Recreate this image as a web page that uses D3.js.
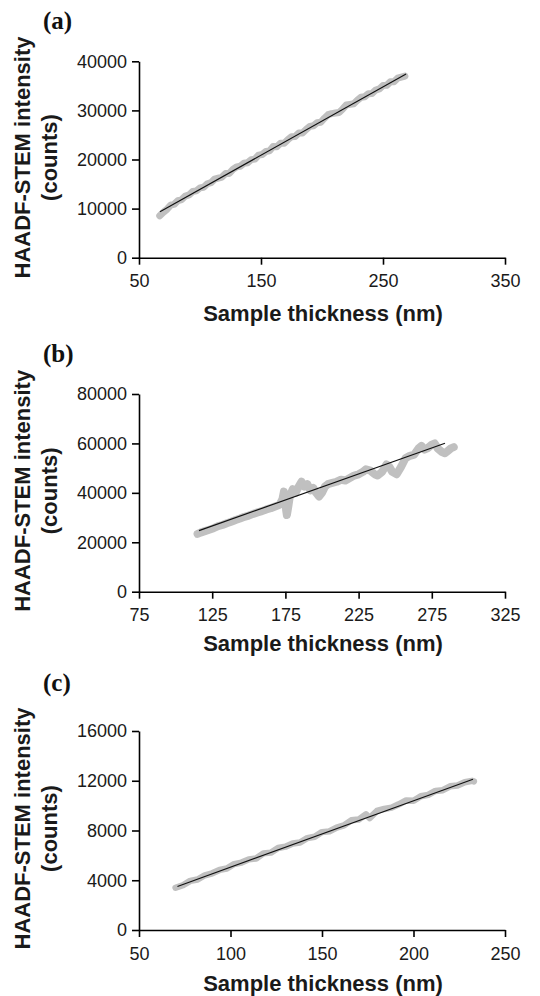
<!DOCTYPE html>
<html>
<head>
<meta charset="utf-8">
<script src="https://cdn.jsdelivr.net/npm/d3@7"></script>
<style>
  body { margin: 0; background: #fff; }
  svg { display: block; }
</style>
</head>
<body>
<div class="canvas"></div>
<script>
// panel (a) - thickness (nm), intensity (counts)
const thickA = [67, 70, 73, 76, 79, 82, 85, 88, 91, 94, 97, 100, 103, 106, 109, 112, 115, 118, 121, 124,
    127, 130, 133, 136, 139, 142, 145, 148, 151, 154, 157, 160, 163, 166, 169, 172, 175, 178, 181, 184,
    187, 190, 193, 196, 199, 202, 205, 208, 211, 214, 217, 220, 223, 226, 229, 232, 235, 238, 241, 244,
    247, 250, 253, 256, 259, 262, 265, 268];
const countsA = [8540, 9260, 9880, 10690, 10910, 11630, 11840, 12560, 12780, 13500, 13610, 14230, 14350, 15060, 15280, 16000, 16210, 16430, 17150, 17170,
    17980, 18500, 18620, 19230, 19350, 19970, 20080, 20900, 21020, 21640, 21750, 22670, 22590, 23300, 23320, 24040, 24650, 24670, 25390, 25400,
    26120, 26740, 26860, 27470, 27590, 28410, 29120, 29340, 29460, 29580, 30290, 31110, 31230, 31340, 32060, 32680, 32790, 33410, 33430, 34150,
    34360, 35080, 35100, 35810, 35830, 36550, 36760, 36980];
const fitA = [[67.2, 9370], [268.9, 37410]];

// panel (b)
const thickB = [115, 117, 120, 123, 126, 129, 132, 135, 138, 141, 144, 147, 150, 153, 156, 159, 162, 165, 168, 171,
    173, 174, 175, 175.5, 176, 177, 178, 180, 182, 184, 186, 188, 190, 192, 194, 196, 198, 200, 202, 204,
    207, 210, 213, 216, 219, 222, 225, 228, 230, 233, 236, 238, 241, 244, 246, 248, 251, 254, 257, 260,
    263, 266, 268, 270, 272, 275, 277, 279, 282, 284, 286, 288, 290];
const countsB = [23400, 23900, 24500, 25100, 25700, 26500, 27000, 27700, 28300, 29000, 29600, 30300, 30800, 31500, 32100, 32600, 33300, 33800, 34500, 35200,
    37500, 40500, 38000, 33000, 31000, 34500, 38500, 41500, 40000, 42500, 44500, 42500, 43500, 41000, 42000, 40000, 38500, 40000, 42500, 43500,
    44000, 44500, 45300, 45000, 46000, 47000, 47500, 48500, 49500, 49000, 47500, 47000, 48500, 51500, 50500, 48500, 47500, 50500, 54000, 55000,
    55500, 58000, 59000, 57500, 58000, 59500, 60000, 58000, 56500, 56000, 57000, 58000, 58500];
const fitB = [[116, 24700], [284, 60050]];

// panel (c)
const thickC = [70, 74, 78, 82, 86, 90, 94, 98, 102, 106, 110, 114, 118, 122, 126, 130, 134, 138, 142, 146,
    150, 154, 158, 162, 166, 170, 174, 176, 180, 184, 188, 192, 196, 200, 204, 208, 212, 216, 220, 224,
    228, 232, 233];
const countsC = [3400, 3600, 3950, 4060, 4400, 4560, 4830, 4940, 5300, 5420, 5680, 5750, 6160, 6220, 6590, 6700, 6960, 7030, 7390, 7500,
    7870, 7930, 8240, 8410, 8820, 8880, 9300, 9000, 9570, 9730, 9840, 10110, 10420, 10390, 10750, 10860, 11180, 11240, 11550, 11620,
    11880, 11990, 11950];
const fitC = [[71, 3500], [232.5, 12120]];

// tick labels
const xTicksA = [50, 150, 250, 350];
const yTicksA = [0, 10000, 20000, 30000, 40000];
const xTicksB = [75, 125, 175, 225, 275, 325];
const yTicksB = [0, 20000, 40000, 60000, 80000];
const xTicksC = [50, 100, 150, 200, 250];
const yTicksC = [0, 4000, 8000, 12000, 16000];

const panels = [
    { label: '(a)', labelY: 29, top: 61.3, bottom: 257.7, titleY: 321, band: 7, thick: thickA, counts: countsA, fit: fitA, xTicks: xTicksA, yTicks: yTicksA },
    { label: '(b)', labelY: 362, top: 394, bottom: 591.7, titleY: 651, band: 8, thick: thickB, counts: countsB, fit: fitB, xTicks: xTicksB, yTicks: yTicksB },
    { label: '(c)', labelY: 691, top: 731, bottom: 930, titleY: 991, band: 6.5, thick: thickC, counts: countsC, fit: fitC, xTicks: xTicksC, yTicks: yTicksC }
];

const dims = { width: 540, height: 996, left: 139, right: 505 };

const svg = d3.select('.canvas')
    .append('svg')
    .attr('width', dims.width)
    .attr('height', dims.height);

const sans = 'Liberation Sans, Arial, Helvetica, sans-serif';

panels.forEach(p => {
    const x = d3.scaleLinear()
        .domain(d3.extent(p.xTicks))
        .range([dims.left, dims.right]);

    const y = d3.scaleLinear()
        .domain(d3.extent(p.yTicks))
        .range([p.bottom, p.top]);

    const line = d3.line()
        .x(d => x(d[0]))
        .y(d => y(d[1]));

    // noisy measured data as a thick grey band
    const pts = p.thick.map((t, i) => [t, p.counts[i]]);
    svg.append('path')
        .attr('d', line(pts))
        .attr('fill', 'none')
        .attr('stroke', '#c0c0c0')
        .attr('stroke-width', p.band)
        .attr('stroke-linejoin', 'round')
        .attr('stroke-linecap', 'round');

    // linear fit
    svg.append('path')
        .attr('d', line(p.fit))
        .attr('fill', 'none')
        .attr('stroke', '#111')
        .attr('stroke-width', 1.2);

    // axes
    const xAxis = d3.axisBottom(x)
        .tickValues(p.xTicks)
        .tickSize(7)
        .tickSizeOuter(0)
        .tickPadding(10)
        .tickFormat(d3.format('d'));

    const yAxis = d3.axisLeft(y)
        .tickValues(p.yTicks)
        .tickSize(7)
        .tickSizeOuter(0)
        .tickPadding(5)
        .tickFormat(d3.format('d'));

    const gx = svg.append('g')
        .attr('transform', `translate(0, ${p.bottom})`)
        .call(xAxis);

    const gy = svg.append('g')
        .attr('transform', `translate(${dims.left}, 0)`)
        .call(yAxis);

    [gx, gy].forEach(g => {
        g.selectAll('path, line').attr('stroke', '#000').attr('stroke-width', 1.6);
        g.selectAll('text')
            .attr('fill', '#1a1a1a')
            .style('font-family', sans)
            .style('font-size', '18px');
    });

    // x title
    svg.append('text')
        .attr('x', (dims.left + dims.right) / 2 + 1)
        .attr('y', p.titleY)
        .attr('text-anchor', 'middle')
        .style('font-family', sans)
        .style('font-size', '22px')
        .style('font-weight', 'bold')
        .attr('fill', '#1a1a1a')
        .text('Sample thickness (nm)');

    // y title (two lines)
    const cy = (p.top + p.bottom) / 2 - 2;
    [['HAADF-STEM intensity', 22], ['(counts)', 49]].forEach(([txt, cx]) => {
        svg.append('text')
            .attr('transform', `translate(${cx}, ${cy}) rotate(-90)`)
            .attr('dy', '0.35em')
            .attr('text-anchor', 'middle')
            .style('font-family', sans)
            .style('font-size', '22px')
            .style('font-weight', 'bold')
            .attr('fill', '#1a1a1a')
            .text(txt);
    });

    // panel letter
    svg.append('text')
        .attr('x', 43)
        .attr('y', p.labelY)
        .style('font-family', 'Liberation Serif, Times New Roman, serif')
        .style('font-size', '25px')
        .style('font-weight', 'bold')
        .attr('fill', '#111')
        .text(p.label);
});
</script>
</body>
</html>
